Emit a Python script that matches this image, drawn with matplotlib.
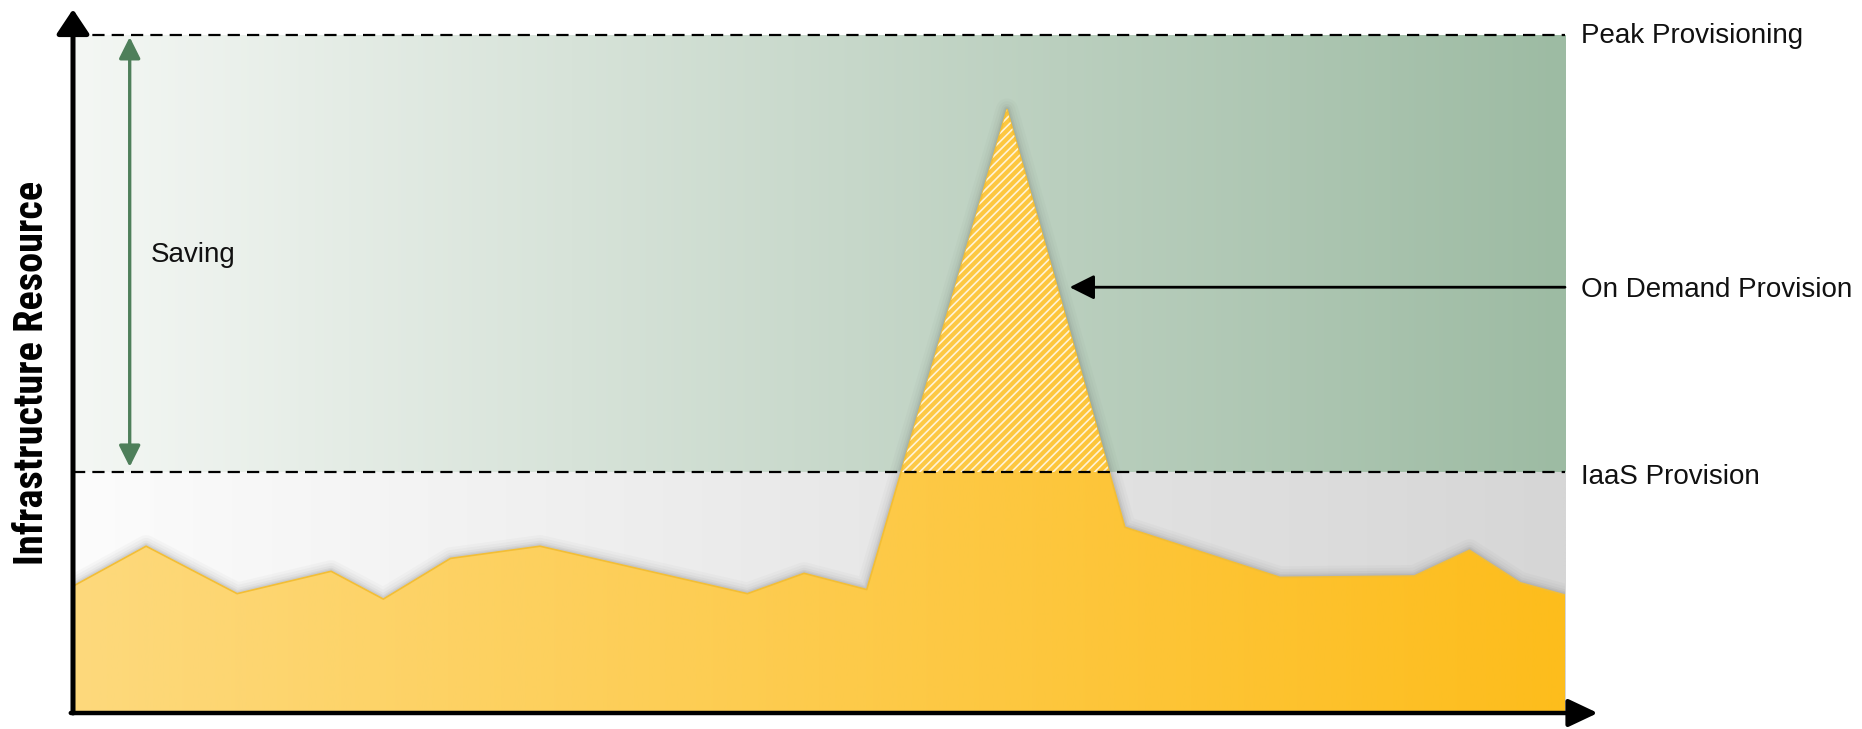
import numpy as np
import matplotlib
matplotlib.use("Agg")
import matplotlib.pyplot as plt
from matplotlib.patches import Polygon, Rectangle
from matplotlib.colors import to_rgb
from matplotlib import font_manager

# ---------------- data ----------------
time = [0, 4.9, 11.0, 17.3, 20.8, 25.3, 31.3, 45.2, 49.0, 53.2, 62.6, 70.5, 80.9, 89.9, 93.6, 97.0, 100]
demand = [18.7, 24.6, 17.6, 20.9, 16.8, 22.8, 24.6, 17.6, 20.6, 18.2, 89.0, 27.4, 20.0, 20.2, 24.0, 19.2, 17.4]
peak_level = 100.0
iaas_level = 35.6
on_demand_arrow_y = 62.8
on_demand_arrow_tip = 66.8
saving_x = 3.8
level_labels = ["Peak Provisioning", "On Demand Provision", "IaaS Provision"]
level_label_y = [98.8, 61.4, 33.8]
saving_label = "Saving"
y_label = "Infrastructure Resource"

# ---------------- style ----------------
green_left, green_right = "#f4f7f4", "#9dbba3"
gray_left, gray_right = "#fcfcfc", "#d6d6d6"
yellow_left, yellow_right = "#fdd97c", "#fdbd1c"
plt.rcParams['hatch.linewidth'] = 1.2

installed = {f.name for f in font_manager.fontManager.ttflist}
narrow_fams = [f for f in ["Liberation Sans Narrow", "Roboto Condensed", "Open Sans Condensed",
                           "DejaVu Sans Condensed", "Noto Sans Display"] if f in installed]
ylab_family = narrow_fams + ["DejaVu Sans"]

W, H = 1862, 729
fig = plt.figure(figsize=(W / 100, H / 100), dpi=100)
ax = fig.add_axes([73 / W, 16 / H, 1492 / W, 678 / H])
ax.set_xlim(0, 100)
ax.set_ylim(0, 100)
ax.axis("off")


def hgrad(c1, c2, n=256):
    a, b = np.array(to_rgb(c1)), np.array(to_rgb(c2))
    t = np.linspace(0, 1, n)[:, None]
    return (a * (1 - t) + b * t)[None, :, :]


x0, x1 = time[0], time[-1]

# green "saving" region
green_rect = Rectangle((x0, iaas_level), x1 - x0, peak_level - iaas_level,
                       facecolor="none", edgecolor="none")
ax.add_patch(green_rect)
im = ax.imshow(hgrad(green_left, green_right), extent=(x0, x1, iaas_level, peak_level),
               aspect="auto", interpolation="bilinear", zorder=1)
im.set_clip_path(green_rect)

# gray region
gray_rect = Rectangle((x0, 0), x1 - x0, iaas_level, facecolor="none", edgecolor="none")
ax.add_patch(gray_rect)
im2 = ax.imshow(hgrad(gray_left, gray_right), extent=(x0, x1, 0, iaas_level),
                aspect="auto", interpolation="bilinear", zorder=1)
im2.set_clip_path(gray_rect)

# soft shadow of the demand curve
for lw, a in [(16, 0.03), (12, 0.04), (8, 0.05), (5, 0.07), (3, 0.08)]:
    ax.plot(time, demand, color="#555555", lw=lw, alpha=a, solid_joinstyle="round",
            solid_capstyle="round", zorder=2)

# demand area with gradient
verts = list(zip(time, demand)) + [(x1, 0), (x0, 0)]
demand_poly = Polygon(verts, closed=True, facecolor="none", edgecolor="none")
ax.add_patch(demand_poly)
im3 = ax.imshow(hgrad(yellow_left, yellow_right), extent=(x0, x1, 0, max(demand)),
                aspect="auto", interpolation="bilinear", zorder=3)
im3.set_clip_path(demand_poly)
ax.plot(time, demand, color="#f3be35", lw=1.2, zorder=4)

# hatched part of demand above the IaaS level
hatch_poly = Polygon(verts, closed=True, facecolor="none", edgecolor="white",
                     hatch="////", linewidth=0, alpha=0.8, zorder=4)
ax.add_patch(hatch_poly)
hatch_poly.set_clip_path(green_rect)

# dashed provisioning levels
for lvl in (peak_level, iaas_level):
    ax.plot([x0, x1], [lvl, lvl], color="black", lw=1.6, dashes=(5.5, 3.2), zorder=5,
            clip_on=False)

# axes with arrows
ax.annotate("", xy=(x0, 103.8), xytext=(x0, 0), xycoords="data",
            arrowprops=dict(arrowstyle="-|>,head_length=1.5,head_width=1.0", lw=3.6,
                            color="black", shrinkA=0, shrinkB=0, mutation_scale=10),
            annotation_clip=False, zorder=6)
ax.annotate("", xy=(102.2, 0), xytext=(x0 - 0.15, 0), xycoords="data",
            arrowprops=dict(arrowstyle="-|>,head_length=1.8,head_width=0.85", lw=3.2,
                            color="black", shrinkA=0, shrinkB=0, mutation_scale=10),
            annotation_clip=False, zorder=6)

# saving double arrow
ax.annotate("", xy=(saving_x, peak_level - 0.3), xytext=(saving_x, iaas_level + 0.7),
            arrowprops=dict(arrowstyle="<|-|>,head_length=1.3,head_width=0.65", lw=2.4,
                            color="#4e7f5a", shrinkA=0, shrinkB=0, mutation_scale=10),
            zorder=6)
ax.text(5.2, 66.5, saving_label, fontsize=20, family="Liberation Sans",
        ha="left", va="baseline", color="#111111", zorder=7)

# on-demand arrow
ax.annotate("", xy=(on_demand_arrow_tip, on_demand_arrow_y), xytext=(x1, on_demand_arrow_y),
            arrowprops=dict(arrowstyle="-|>,head_length=1.5,head_width=0.75", lw=2.0,
                            color="black", shrinkA=0, shrinkB=0, mutation_scale=10),
            zorder=6)

# right-side labels
for lab, ly in zip(level_labels, level_label_y):
    ax.text(101.1, ly, lab, fontsize=20, family="Liberation Sans", ha="left",
            va="baseline", color="#111111", clip_on=False)

# y label, sized so that it spans the same length as in the reference
ylab = ax.text(-2.0, 50.2, y_label, rotation=90, rotation_mode="anchor", ha="center",
               va="baseline", fontsize=30, fontweight="bold", fontstretch="condensed",
               family=ylab_family, color="black", clip_on=False)
renderer = fig.canvas.get_renderer()
ext = ylab.get_window_extent(renderer)
target_len = 385.0
if ext.height > target_len:
    ylab.set_fontsize(30 * target_len / ext.height)

fig.savefig("out.png", dpi=100, facecolor="white")
